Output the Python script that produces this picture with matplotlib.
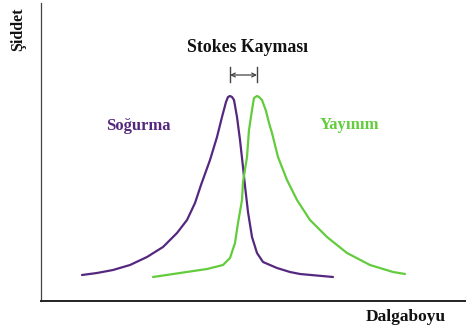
import matplotlib
matplotlib.use("Agg")
import matplotlib.pyplot as plt
import numpy as np

# absorption (Soğurma) and emission (Yayınım) bands, read point by point
sogurma_x = [41, 56, 72, 89, 106, 122, 136, 146, 154, 160, 169, 176, 181,
             185, 187, 189, 191, 193, 196, 199, 202, 204, 207, 211, 216,
             222, 229, 236, 249, 259, 292]
sogurma_y = [26, 28, 31, 36, 44, 54, 68, 81, 98, 116, 141, 164, 184,
             199, 204, 205, 204, 201, 184, 161, 134, 115, 89, 64, 48,
             39, 36, 33, 29, 27, 24]

yayinim_x = [112, 139, 166, 182, 189, 194, 197, 201, 202, 206, 208, 211, 213,
             216, 218, 221, 225, 228, 231, 237, 246, 256, 269, 286, 306,
             329, 352, 364]
yayinim_y = [24, 28, 32, 36, 43, 58, 78, 101, 119, 144, 171, 191, 203,
             205, 204, 201, 190, 178, 168, 144, 121, 101, 81, 64, 48,
             36, 29, 27]

mor = "#55287f"
yesil = "#62cc3c"
serif = "Liberation Serif"

fig = plt.figure(figsize=(4.66, 3.31), dpi=100)
ax = fig.add_axes([41 / 466, 30 / 331, 425 / 466, 298 / 331])

ax.plot(sogurma_x, sogurma_y, color=mor, lw=1.6,
        solid_joinstyle="round", solid_capstyle="round")
ax.plot(yayinim_x, yayinim_y, color=yesil, lw=1.6,
        solid_joinstyle="round", solid_capstyle="round")

ax.set_xlim(0, 425)
ax.set_ylim(0, 298)
ax.set_xticks([])
ax.set_yticks([])
for s in ("top", "right"):
    ax.spines[s].set_visible(False)
ax.spines["left"].set_color("#444444")
ax.spines["left"].set_linewidth(0.9)
ax.spines["bottom"].set_color("#222222")
ax.spines["bottom"].set_linewidth(1.4)

# Stokes shift bracket between the two peaks
p1 = sogurma_x[int(np.argmax(sogurma_y))]
p2 = yayinim_x[int(np.argmax(yayinim_y))]
ax.annotate("", xy=(p1, 226), xytext=(p2, 226),
            arrowprops=dict(arrowstyle="<->", color="#444444", lw=0.9,
                            shrinkA=0, shrinkB=0, mutation_scale=7))
for p in (p1, p2):
    ax.plot([p, p], [219, 234], color="#444444", lw=1.0)

ax.text(207, 254, "Stokes Kayması", ha="center", va="center",
        fontsize=12.8, fontweight="bold", family=serif, color="#111111")
ax.text(97, 175, "Soğurma", ha="center", va="center", fontsize=12,
        fontweight="bold", family=serif, color=mor)
ax.text(308, 176, "Yayınım", ha="center", va="center", fontsize=12,
        fontweight="bold", family=serif, color=yesil)

fig.text(406 / 466, 1 - 317 / 331, "Dalgaboyu", ha="center", va="center",
         fontsize=12.5, fontweight="bold", family=serif, color="#111111")
fig.text(18 / 466, 1 - 29 / 331, "Şiddet", ha="center", va="center",
         rotation=90, fontsize=11.5, fontweight="bold", family=serif,
         color="#111111")

fig.savefig("out.png", dpi=100, facecolor="white")
